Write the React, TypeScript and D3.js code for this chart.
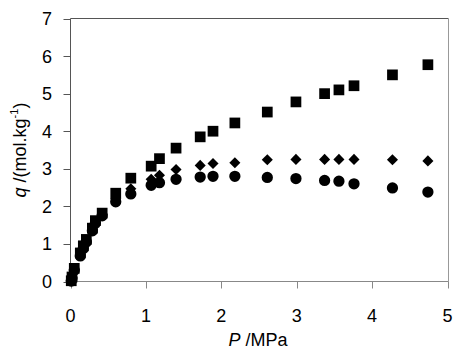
import React from "react";
import * as d3 from "d3";

const pressure = [0.01, 0.02, 0.05, 0.13, 0.17, 0.21, 0.29, 0.33, 0.42, 0.6, 0.8, 1.07, 1.18, 1.4, 1.72, 1.89, 2.18, 2.61, 2.99, 3.37, 3.56, 3.76, 4.27, 4.74];
const squareQ = [0.02, 0.12, 0.35, 0.76, 0.95, 1.12, 1.42, 1.62, 1.82, 2.35, 2.75, 3.07, 3.27, 3.55, 3.85, 4.0, 4.22, 4.51, 4.78, 5.0, 5.1, 5.21, 5.5, 5.77];
const diamondQ = [0.02, 0.1, 0.32, 0.72, 0.92, 1.08, 1.38, 1.58, 1.78, 2.2, 2.47, 2.72, 2.83, 2.98, 3.09, 3.14, 3.16, 3.24, 3.25, 3.25, 3.25, 3.25, 3.24, 3.21];
const circleQ = [0.01, 0.08, 0.3, 0.68, 0.88, 1.05, 1.35, 1.55, 1.75, 2.12, 2.33, 2.56, 2.63, 2.72, 2.78, 2.8, 2.8, 2.77, 2.74, 2.69, 2.67, 2.6, 2.49, 2.38];
const xTicks = [0, 1, 2, 3, 4, 5];
const yTicks = [0, 1, 2, 3, 4, 5, 6, 7];

const W = 456, H = 354;
const left = 70.5, right = 447.5, top = 18.5, bottom = 281.5;
const font = "Arial, 'Liberation Sans', sans-serif";

export default function App() {
  const x = d3.scaleLinear().domain([0, 5]).range([left, right]);
  const y = d3.scaleLinear().domain([0, 7]).range([bottom, top]);
  const sq = d3.symbol().type(d3.symbolSquare).size(115)()!;
  const ci = d3.symbol().type(d3.symbolCircle).size(100)()!;
  const di = d3.symbol().type(d3.symbolDiamond2).size(78)()!;
  return (
    <svg width={W} height={H} style={{ position: "absolute", left: 0, top: 0 }}>
      <rect x={0} y={0} width={W} height={H} fill="#fff" />
      {/* frame */}
      <line x1={left} x2={right + 1} y1={top} y2={top} stroke="#555" />
      <line x1={right + 1} x2={right + 1} y1={top} y2={bottom} stroke="#999" />
      <line x1={left} x2={left} y1={top} y2={bottom} stroke="#555" />
      <line x1={left} x2={right + 1} y1={bottom} y2={bottom} stroke="#888" />
      {yTicks.map((t) => (
        <g key={"y" + t}>
          <line x1={left - 7} x2={left} y1={Math.round(y(t)) + 0.5} y2={Math.round(y(t)) + 0.5} stroke="#555" />
          <text x={52} y={y(t) + 6.5} fontFamily={font} fontSize={18} textAnchor="end" fill="#000">{t}</text>
        </g>
      ))}
      {xTicks.map((t) => (
        <g key={"x" + t}>
          <line x1={Math.round(x(t)) + 0.5} x2={Math.round(x(t)) + 0.5} y1={bottom} y2={bottom + 7} stroke="#888" />
          <text x={x(t)} y={322} fontFamily={font} fontSize={18} textAnchor="middle" fill="#000">{t}</text>
        </g>
      ))}
      <text x={258} y={346} fontFamily={font} fontSize={18} textAnchor="middle" fill="#000">
        <tspan fontStyle="italic">P</tspan> /MPa
      </text>
      <text transform={`translate(26,${(top + bottom) / 2}) rotate(-90)`} fontFamily={font} fontSize={18} textAnchor="middle" fill="#000">
        <tspan fontStyle="italic">q</tspan> /(mol.kg<tspan fontSize={11} dy={-8}>-1</tspan><tspan dy={8}>)</tspan>
      </text>
      {pressure.map((p, i) => (
        <path key={"c" + i} d={ci} transform={`translate(${x(p)},${y(circleQ[i])})`} fill="#000" />
      ))}
      {pressure.map((p, i) => (
        <path key={"d" + i} d={di} transform={`translate(${x(p)},${y(diamondQ[i])})`} fill="#000" />
      ))}
      {pressure.map((p, i) => (
        <path key={"s" + i} d={sq} transform={`translate(${x(p)},${y(squareQ[i])})`} fill="#000" />
      ))}
    </svg>
  );
}
